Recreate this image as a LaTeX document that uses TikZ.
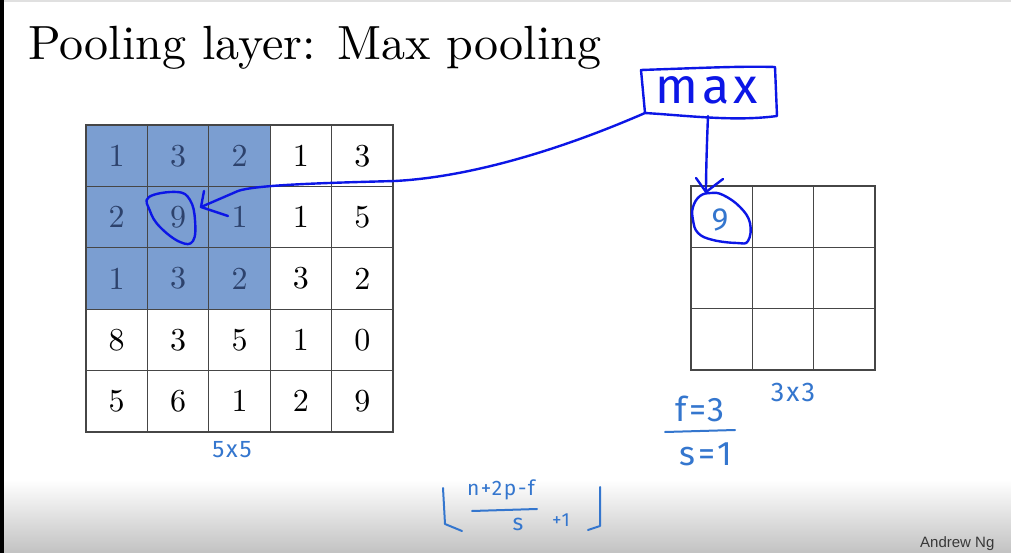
\documentclass[tikz,border=0pt]{standalone}
\usepackage{fontspec}
\newfontfamily\slide{lmroman10-regular}[Extension=.otf]
\newfontfamily\hand{Fira Sans}[LetterSpace=8]
\newfontfamily\footfont{Liberation Sans}
\definecolor{winfill}{RGB}{123,158,209}
\definecolor{wintext}{RGB}{45,66,108}
\definecolor{gridc}{RGB}{70,70,70}
\definecolor{ink}{RGB}{12,22,230}
\definecolor{note}{RGB}{52,118,206}
\begin{document}
\begin{tikzpicture}[x=1pt,y=-1pt,
  cell/.style={draw=gridc, line width=1.3pt, minimum size=61.4pt, inner sep=0pt,
    font=\slide\fontsize{32}{32}\selectfont},
  smallcell/.style={draw=gridc, line width=1.3pt, minimum size=61.3pt, inner sep=0pt},
  pen/.style={draw=ink, line width=2.4pt, line cap=round, line join=round},
  notetext/.style={text=note, inner sep=0pt},
]
\useasboundingbox (0,0) rectangle (1011,553);
\clip (0,0) rectangle (1011,553);
\fill[white] (0,0) rectangle (1011,553);
% bottom fade of the slide
\shade[top color=white, bottom color=black!24] (0,480) rectangle (1011,553);
\fill[black!12] (0,0) rectangle (1011,2);
\fill[black] (0,0) rectangle (4,553);

% title
\node[anchor=base west, inner sep=0pt, font=\slide\fontsize{48}{50}\selectfont] (title) at (28,60) {Pooling layer: Max pooling};

% 5x5 input with the 3x3 window shaded
\foreach \row [count=\r from 0] in {{1,3,2,1,3},{2,9,1,1,5},{1,3,2,3,2},{8,3,5,1,0},{5,6,1,2,9}}{
  \foreach \v [count=\c from 0] in \row {
    \pgfmathtruncatemacro\inwin{(\r<3)&&(\c<3)}
    \ifnum\inwin=1
      \node[cell, fill=winfill, text=wintext] (a-\r-\c) at (86+61.4*\c+30.7,125+61.4*\r+30.7) {\v};
    \else
      \node[cell, fill=white] (a-\r-\c) at (86+61.4*\c+30.7,125+61.4*\r+30.7) {\v};
    \fi
  }
}

% 3x3 output
\foreach \r in {0,1,2}{
  \foreach \c in {0,1,2}{
    \node[smallcell] (b-\r-\c) at (691+61.3*\c+30.65,186+61.3*\r+30.65) {};
  }
}
\node[notetext, font=\hand\fontsize{32}{32}\selectfont] (nine) at (720,220) {9};

% handwritten "max" box
\node[text=ink, inner sep=0pt, font=\hand\fontsize{50}{50}\selectfont] (maxlbl) at (707,90) {max};
\draw[pen] (641,70) .. controls (700,68) and (740,66) .. (775,67)
  -- (777,116) .. controls (740,121) and (700,117) .. (660,114) -- (645,113) -- cycle;
\coordinate (boxfoot) at (645,113);
\coordinate (boxdrop) at (708,116);

% connector from the box to the maximum of the window
\coordinate (tipA) at (201,207);
\draw[pen] (boxfoot) .. controls (560,150) and (470,177) .. (395,181)
  .. controls (320,183) and (255,185) .. (238,191) -- (tipA);
\draw[pen] (204,191) -- (tipA) -- (228,216);
% loop round the 9
\draw[pen] plot[smooth cycle, tension=0.7] coordinates {(149,197) (177,192) (190,200) (195,220) (193,241) (180,242) (160,227) (150,211)};

% connector from the box to the output cell
\coordinate (tipB) at (706,192);
\draw[pen] (boxdrop) .. controls (707,140) and (706,170) .. (tipB);
\draw[pen] (696,178) -- (tipB) -- (723,179);
\draw[pen] plot[smooth cycle, tension=0.7] coordinates {(693,207) (700,196) (711,193) (723,195) (740,207) (750,223) (748,241) (737,243) (713,240) (698,233) (693,220)};

% notes in light ink
\node[notetext, font=\hand\fontsize{24}{24}\selectfont] (size5) at (232,450) {5x5};
\node[notetext, font=\hand\fontsize{34}{34}\selectfont] (fval) at (700,409) {f=3};
\draw[draw=note, line width=2pt, line cap=round] (665,432) -- (735,430);
\node[notetext, font=\hand\fontsize{34}{34}\selectfont] (sval) at (706,454) {s=1};
\node[notetext, font=\hand\fontsize{27}{27}\selectfont] (size3) at (793,392) {3x3};

% output size formula
\node[notetext, font=\hand\fontsize{21}{21}\selectfont] (numer) at (501,490) {n+2p-f};
\draw[draw=note, line width=2pt, line cap=round] (472,511) -- (537,509);
\node[notetext, font=\hand\fontsize{23}{23}\selectfont] (denom) at (518,524) {s};
\node[notetext, font=\hand\fontsize{19}{19}\selectfont] (plusone) at (561,520) {+1};
\draw[draw=note, line width=2pt, line cap=round, line join=round] (443,488) -- (445,524) -- (462,531);
\draw[draw=note, line width=2pt, line cap=round, line join=round] (600,487) -- (600,526) -- (588,530);

% credit line at the foot of the slide
\node[anchor=north west, inner sep=0pt, text=black!78, font=\footfont\fontsize{15}{15}\selectfont] (credit) at (920,536) {Andrew Ng};
\end{tikzpicture}
\end{document}
